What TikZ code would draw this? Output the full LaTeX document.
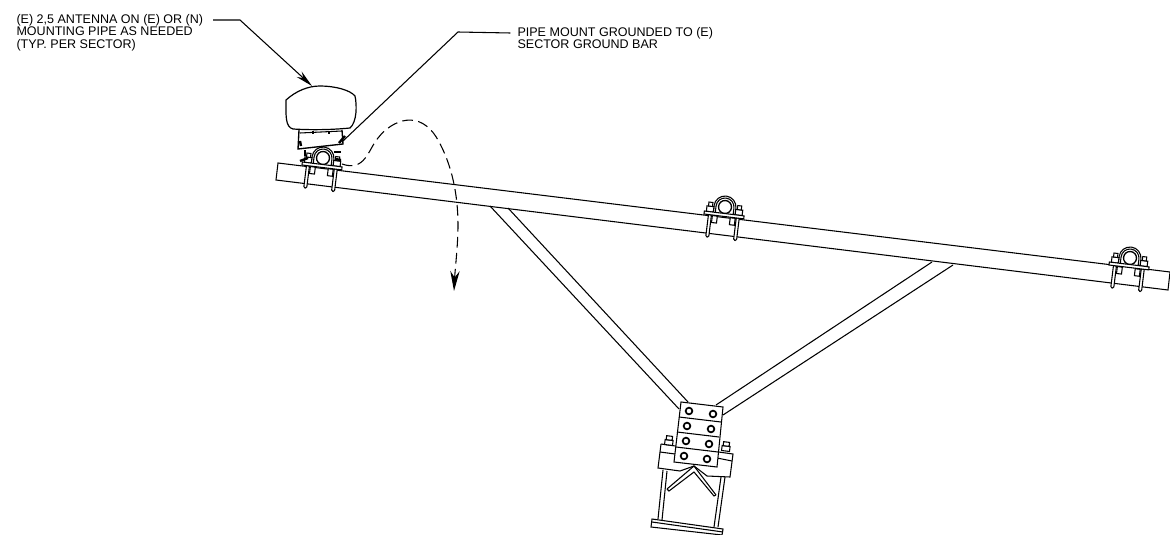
\documentclass[tikz,border=0pt]{standalone}
\usepackage{fontspec}
\setmainfont{Liberation Sans}
\usetikzlibrary{arrows.meta}
\tikzset{
    notelabel/.style={anchor=north west,inner sep=0pt,align=left,font=\fontsize{9.4}{9.2}\selectfont},
    leader/.style={line width=0.8pt},
    boltring/.style={circle,draw,line width=1.3pt,inner sep=0pt,minimum size=5pt},
    pipeclamp/.pic={
        \draw[fill=white,line width=1pt] (0,0) circle (6.5);
        \draw (-11,7) -- (-11,0) arc[start angle=180,end angle=360,radius=11] -- (11,7);
        \draw (-9,7) -- (-9,0) arc[start angle=180,end angle=360,radius=9] -- (9,7);
        \foreach \s in {-1,1}
        {
            \draw[fill=white,rounded corners=1pt] (\s*12.5,9) -- (\s*12.5,32) -- (\s*15.5,32) -- (\s*15.5,9) -- cycle;
            \draw[fill=white] (\s*11,1) rectangle (\s*18,6.5);
            \draw[fill=white] (\s*12.5,-3) rectangle (\s*16.5,1);
            \draw[fill=white] (\s*6.5,10) rectangle (\s*11.5,17);
        }
        \draw[fill=white] (-20,6.5) rectangle (20,9.5);
    }
}
\begin{document}
\begin{tikzpicture}[x=0.75pt,y=-0.75pt,line width=0.8pt]
        \useasboundingbox (0,0) rectangle (1170,535);
        % beam and arms
        \draw (1170,272) -- (278,163) -- (276,180) -- (1168,290) -- (1170,272);
        \draw (490,206) -- (679,409);
        \draw (508,208) -- (688,402);
        \draw (932,262) -- (716,405);
        \draw (953,265) -- (723,415);
        % clamps on the beam
        \pic[rotate=-7] at (323,158) {pipeclamp};
        \pic[rotate=-7] at (725,207) {pipeclamp};
        \pic[rotate=-7] at (1130,258) {pipeclamp};
        % antenna
        \draw[line width=0.9pt] (286,100) .. controls (296,91) and (308,86) .. (320,86)
            .. controls (335,86) and (350,90) .. (355,96)
            .. controls (357,105) and (357,122) .. (350,128)
            .. controls (330,130) and (310,130) .. (293,129)
            .. controls (285,127) and (286,115) .. (286,100);
        \draw[line width=1pt] (299,130) -- (298,149) -- (343,144) -- (342,130);
        \draw (300,133) -- (342,131);
        \draw[line width=1.8pt] (300,141) -- (301,146);
        \draw[line width=1.8pt] (339,143) -- (345,136);
        \foreach \x in {313,329}
        {
            \draw[line width=1.8pt] (\x,131) -- (\x,134);
        }
        \draw[line width=1.8pt] (305,150) -- (305,156);
        \draw[line width=1.8pt] (300,161) -- (308,158);
        \draw[line width=1.8pt] (334,152) -- (341,152);
        \draw[line width=1.8pt] (335,159) -- (341,160);
        % plate and bottom clamp
        \draw[fill=white] (661,444) -- (658,468) -- (680,471) -- (694,466) -- (707,476) -- (730,477) -- (733,454) -- (661,444);
        \draw (660,452) -- (675,454);
        \draw (717,458) -- (732,461);
        \foreach \x/\y in {669/441,726/447}
        {
            \draw[fill=white,rotate around={-7:(\x,\y)}] (\x-4,\y-1) rectangle (\x+4,\y+4);
            \draw[fill=white,rotate around={-7:(\x,\y)}] (\x-3,\y-5) rectangle (\x+3,\y-1);
        }
        \draw (663,470) -- (658,519);
        \draw (667,471) -- (662,520);
        \draw (721,477) -- (714,527);
        \draw (725,477) -- (718,527);
        \draw[fill=white] (652,519) -- (723,529) -- (722,535) -- (651,527) -- cycle;
        \draw (652,522) -- (723,532);
        \draw (667,489) -- (694,466) -- (716,495);
        \draw (667,489) -- (669,491) -- (694,472) -- (714,496) -- (716,495);
        \draw[fill=white] (681,402) -- (723,407) -- (717,467) -- (674,462) -- cycle;
        \draw (679,417) -- (721,422);
        \draw (677,432) -- (719,437);
        \draw (676,447) -- (718,452);
        \foreach \i/\x/\y in {1/689/411,2/713/414,3/687/426,4/711/429,5/686/441,6/709/444,7/684/456,8/707/459}
        {
            \node (ring\i) at (\x,\y)[boltring]{};
        }
        % swing direction
        \draw[dashed,dash pattern=on 8pt off 4pt,-{Stealth[length=15pt,width=7pt]}] (342,164) .. controls (365,172) and (368,150) .. (378,138)
            .. controls (392,120) and (420,108) .. (438,140)
            .. controls (452,165) and (458,195) .. (458,225)
            .. controls (458,245) and (455,270) .. (454,291);
        % notes
        \node (antlabel) at (16,14)[notelabel]{(E) 2,5 ANTENNA ON (E) OR (N)\\MOUNTING PIPE AS NEEDED\\(TYP. PER SECTOR)};
        \node (mountlabel) at (517,27)[notelabel]{PIPE MOUNT GROUNDED TO (E)\\SECTOR GROUND BAR};
        \coordinate (anttip) at (312,86);
        \coordinate (mounttip) at (343,141);
        \draw[leader,-{Stealth[length=13pt,width=5.5pt]}] ([xshift=7pt,yshift=-4.5pt]antlabel.north east) -- (240,20) -- (anttip);
        \draw[leader] ([xshift=-5pt,yshift=-4.5pt]mountlabel.north west) -- (458,32) -- (mounttip);
    \end{tikzpicture}
\end{document}
